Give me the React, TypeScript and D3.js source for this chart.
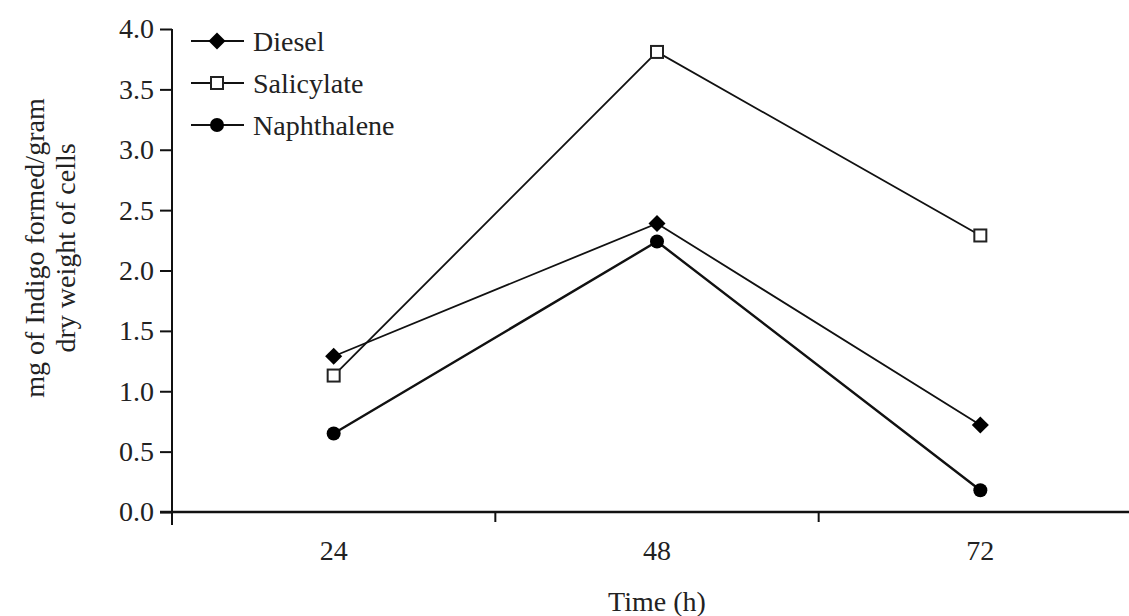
import { useRef, useEffect } from 'react';
import * as d3 from 'd3';

const times = ['24', '48', '72'];
const diesel = [1.29, 2.39, 0.72];
const salicylate = [1.13, 3.81, 2.29];
const naphthalene = [0.65, 2.24, 0.18];
const yTicks = [0, 0.5, 1, 1.5, 2, 2.5, 3, 3.5, 4];

const seriesList = [
  { name: 'Diesel', values: diesel, marker: 'diamond' },
  { name: 'Salicylate', values: salicylate, marker: 'square' },
  { name: 'Naphthalene', values: naphthalene, marker: 'circle' },
];

const W = 1129;
const H = 616;
const FONT = '"Liberation Serif", "Times New Roman", serif';
const FS = 28;

export default function App() {
  const svgRef = useRef<SVGSVGElement>(null);

  useEffect(() => {
    if (!svgRef.current) return;
    const svg = d3.select(svgRef.current);
    svg.selectAll('*').remove();

    // x is categorical, ticks sit on the band edges, axis runs off the right side
    const x = d3.scaleBand<string>().domain(times).range([172, 1142]).padding(0);
    const y = d3.scaleLinear().domain([0, 4]).range([512, 29]);
    const cx = (t: string) => (x(t) as number) + x.bandwidth() / 2;

    // Y axis
    const yAxis = svg.append('g')
      .attr('transform', `translate(${x.range()[0]},0)`)
      .call(d3.axisLeft(y).tickValues(yTicks).tickFormat(d3.format('.1f')).tickSize(12).tickSizeOuter(0).tickPadding(6));
    yAxis.select('.domain').remove();
    yAxis.append('line')
      .attr('x1', 0).attr('x2', 0)
      .attr('y1', y(4)).attr('y2', y(0) + 13)
      .attr('stroke', '#111').attr('stroke-width', 2);
    yAxis.selectAll('.tick line').attr('stroke', '#111').attr('stroke-width', 2);
    yAxis.selectAll('.tick text')
      .attr('font-family', FONT).attr('font-size', FS).attr('fill', '#222');

    // X axis
    const xAxis = svg.append('g').attr('transform', `translate(0,${y(0)})`);
    xAxis.append('line')
      .attr('x1', x.range()[0] - 12).attr('x2', x.range()[1])
      .attr('y1', 0).attr('y2', 0)
      .attr('stroke', '#111').attr('stroke-width', 2.5);
    xAxis.selectAll('.xtick')
      .data(times.slice(1))
      .join('line')
      .attr('class', 'xtick')
      .attr('x1', d => x(d) as number).attr('x2', d => x(d) as number)
      .attr('y1', 0).attr('y2', 10)
      .attr('stroke', '#111').attr('stroke-width', 2);
    xAxis.selectAll('.xlabel')
      .data(times)
      .join('text')
      .attr('class', 'xlabel')
      .attr('x', d => cx(d))
      .attr('y', 48)
      .attr('text-anchor', 'middle')
      .attr('font-family', FONT).attr('font-size', FS).attr('fill', '#222')
      .text(d => d);

    svg.append('text')
      .attr('x', cx('48'))
      .attr('y', 611)
      .attr('text-anchor', 'middle')
      .attr('font-family', FONT).attr('font-size', FS).attr('fill', '#222')
      .text('Time (h)');

    // Y title, two lines
    const yTitle = svg.append('text')
      .attr('transform', 'translate(0,248) rotate(-90)')
      .attr('text-anchor', 'middle')
      .attr('font-family', FONT).attr('font-size', FS).attr('fill', '#222');
    yTitle.append('tspan').attr('x', 0).attr('y', 44).text('mg of Indigo formed/gram');
    yTitle.append('tspan').attr('x', 0).attr('y', 75).text('dry weight of cells');

    const drawMarker = (sel: any, kind: string, px: number, py: number) => {
      if (kind === 'diamond') {
        sel.append('path')
          .attr('d', d3.symbol(d3.symbolDiamond2, 185)())
          .attr('transform', `translate(${px},${py})`)
          .attr('fill', '#000');
      } else if (kind === 'square') {
        sel.append('rect')
          .attr('x', px - 6).attr('y', py - 6)
          .attr('width', 12).attr('height', 12)
          .attr('fill', '#fff').attr('stroke', '#222').attr('stroke-width', 2);
      } else {
        sel.append('circle')
          .attr('cx', px).attr('cy', py).attr('r', 7)
          .attr('fill', '#000');
      }
    };

    const line = d3.line<number>()
      .x((_, i) => cx(times[i]))
      .y(d => y(d));

    seriesList.forEach(s => {
      svg.append('path')
        .attr('d', line(s.values))
        .attr('fill', 'none')
        .attr('stroke', '#111')
        .attr('stroke-width', s.marker === 'circle' ? 2.4 : 1.8);
    });
    seriesList.forEach(s => {
      const g = svg.append('g');
      s.values.forEach((v, i) => drawMarker(g, s.marker, cx(times[i]), y(v)));
    });

    // Legend
    const legY = [41, 83, 125];
    seriesList.forEach((s, i) => {
      const g = svg.append('g');
      g.append('line')
        .attr('x1', 191).attr('x2', 244)
        .attr('y1', legY[i]).attr('y2', legY[i])
        .attr('stroke', '#111').attr('stroke-width', 2);
      drawMarker(g, s.marker, 217, legY[i]);
      g.append('text')
        .attr('x', 253).attr('y', legY[i] + 10)
        .attr('font-family', FONT).attr('font-size', FS).attr('fill', '#222')
        .text(s.name);
    });
  }, []);

  return (
    <svg
      ref={svgRef}
      width={W}
      height={H}
      style={{ position: 'absolute', left: 0, top: 0, background: '#fff' }}
    />
  );
}
